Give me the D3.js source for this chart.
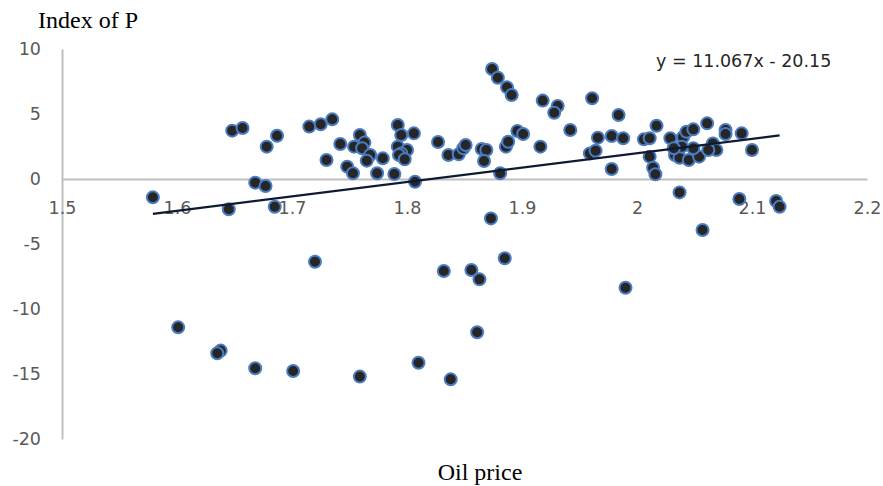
<!DOCTYPE html>
<html>
<head>
<meta charset="utf-8">
<script src="https://cdn.jsdelivr.net/npm/d3@7"></script>
<style>
  body { margin: 0; background: #fff; }
  svg { display: block; }
</style>
</head>
<body>
<div id="chart"></div>
<script>
// values
var oilPrice = [1.579, 1.645, 1.685, 1.873, 2.057, 1.720, 1.832, 1.856, 1.863, 1.885,
  1.990, 1.601, 1.638, 1.635, 1.668, 1.701, 1.759, 1.810, 1.838, 1.861,
  1.668, 1.677, 1.807, 2.037, 2.089, 2.121, 2.124,
  1.648, 1.657, 1.678, 1.687, 1.715, 1.725, 1.735, 1.730, 1.742, 1.748,
  1.753, 1.754, 1.759, 1.763, 1.761, 1.768, 1.765, 1.779, 1.774, 1.789,
  1.792, 1.795, 1.806, 1.792, 1.800, 1.795, 1.793, 1.798, 1.827, 1.874,
  1.879, 1.887, 1.891, 1.918, 1.931, 1.928, 1.961, 1.984, 1.836, 1.845,
  1.849, 1.851, 1.865, 1.869, 1.867, 1.881, 1.886, 1.888, 1.896, 1.901,
  1.916, 1.942, 1.959, 1.964, 1.966, 1.978, 1.988, 1.978, 2.006, 2.011,
  2.017, 2.011, 2.014, 2.016, 2.029, 2.040, 2.043, 2.049, 2.061, 2.077,
  2.077, 2.091, 2.100, 2.033, 2.037, 2.045, 2.054, 2.049, 2.039, 2.032,
  2.066, 2.069, 2.062];
var indexP = [-1.41, -2.33, -2.13, -3.03, -3.92, -6.36, -7.08, -7.00, -7.72, -6.10,
  -8.36, -11.41, -13.20, -13.40, -14.56, -14.77, -15.20, -14.13, -15.41, -11.79,
  -0.28, -0.54, -0.21, -1.03, -1.54, -1.69, -2.13,
  3.72, 3.92, 2.49, 3.33, 4.03, 4.21, 4.59, 1.46, 2.69, 0.95,
  0.44, 2.49, 3.38, 2.80, 2.36, 1.85, 1.41, 1.59, 0.44, 0.38,
  4.15, 3.38, 3.51, 2.49, 2.23, 1.97, 1.85, 1.51, 2.85, 8.46,
  7.79, 7.05, 6.46, 6.03, 5.62, 5.10, 6.21, 4.92, 1.85, 1.90,
  2.36, 2.62, 2.31, 2.23, 1.38, 0.44, 2.49, 2.87, 3.69, 3.46,
  2.49, 3.77, 1.97, 2.18, 3.18, 3.31, 3.13, 0.77, 3.05, 3.13,
  4.10, 1.72, 0.87, 0.36, 3.13, 3.21, 3.64, 3.82, 4.28, 3.77,
  3.46, 3.51, 2.23, 1.85, 1.64, 1.46, 1.72, 2.36, 2.49, 2.36,
  2.74, 2.23, 2.23];
var xTicks = [1.5, 1.6, 1.7, 1.8, 1.9, 2, 2.1, 2.2];
var yTicks = [10, 5, 0, -5, -10, -15, -20];
var slope = 11.067, intercept = -20.15;

var W = 883, H = 486;
var svg = d3.select("#chart").append("svg")
  .attr("width", W).attr("height", H);

var x = d3.scaleLinear().domain([1.5, 2.2]).range([62, 867]);
var y = d3.scaleLinear().domain([-20, 10]).range([439, 49]);

var axisCol = "#bfbfbf", tickCol = "#595959";
// plain hyphen for negatives, like the original
var plain = function(d) { return String(d); };

// y axis: line + labels on the left
var yAxis = svg.append("g")
  .attr("transform", "translate(" + x(1.5) + ",0)")
  .call(d3.axisLeft(y).tickValues(yTicks).tickSize(0).tickPadding(21).tickFormat(plain));
yAxis.select(".domain").attr("stroke", axisCol).attr("stroke-width", 2);
yAxis.selectAll("text")
  .attr("fill", tickCol)
  .style("font-family", "DejaVu Sans")
  .style("font-size", "17.5px");

// x axis crosses at y = 0, labels sit below
var xAxis = svg.append("g")
  .attr("transform", "translate(0," + y(0) + ")")
  .call(d3.axisBottom(x).tickValues(xTicks).tickSize(0).tickPadding(23).tickFormat(plain));
xAxis.select(".domain").attr("stroke", axisCol).attr("stroke-width", 2);
xAxis.selectAll("text")
  .attr("fill", tickCol)
  .style("font-family", "DejaVu Sans")
  .style("font-size", "17.5px");

// points
var pts = oilPrice.map(function(v, i) { return {x: v, y: indexP[i]}; });
svg.append("g").selectAll("circle")
  .data(pts)
  .join("circle")
  .attr("cx", function(d) { return x(d.x); })
  .attr("cy", function(d) { return y(d.y); })
  .attr("r", 6)
  .attr("fill", "#262626")
  .attr("stroke", "#4a7cc4")
  .attr("stroke-width", 2);

// linear trendline over the range of the data
var ext = d3.extent(oilPrice);
svg.append("line")
  .attr("x1", x(ext[0])).attr("y1", y(slope * ext[0] + intercept))
  .attr("x2", x(ext[1])).attr("y2", y(slope * ext[1] + intercept))
  .attr("stroke", "#0d1a30")
  .attr("stroke-width", 2.3);

svg.append("text")
  .attr("x", 656).attr("y", 67)
  .attr("fill", "#262626")
  .style("font-family", "DejaVu Sans")
  .style("font-size", "17.5px")
  .text("y = " + slope + "x - " + Math.abs(intercept));

// axis titles
svg.append("text")
  .attr("x", 38).attr("y", 28)
  .style("font-family", "Liberation Serif")
  .style("font-size", "24px")
  .text("Index of P");

svg.append("text")
  .attr("x", 480).attr("y", 480)
  .attr("text-anchor", "middle")
  .style("font-family", "Liberation Serif")
  .style("font-size", "24px")
  .text("Oil price");
</script>
</body>
</html>
